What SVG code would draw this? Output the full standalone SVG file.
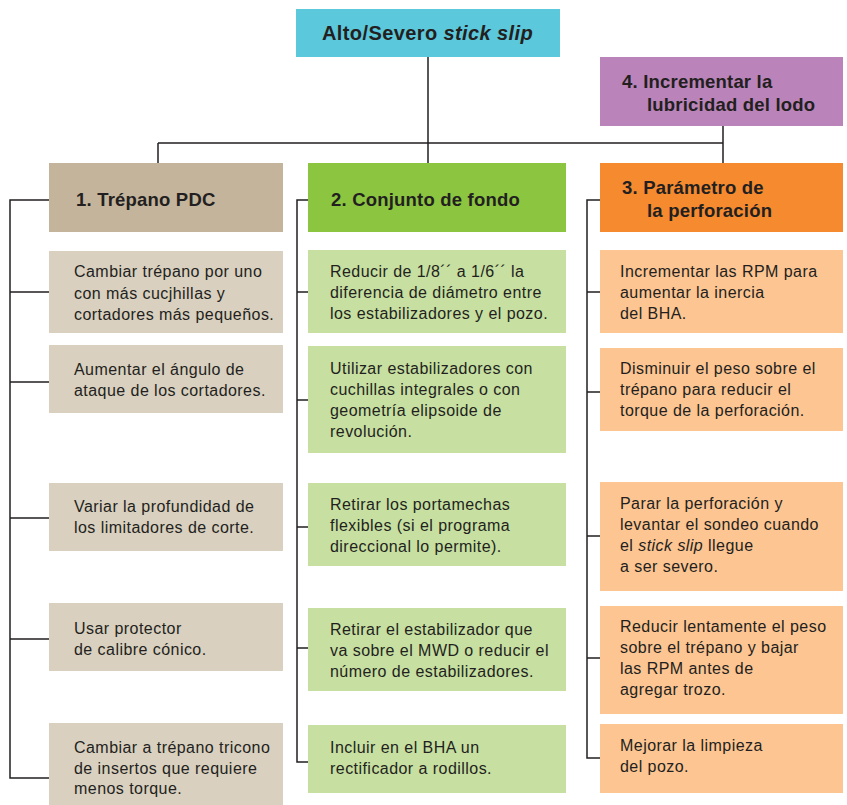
<svg xmlns="http://www.w3.org/2000/svg" width="847" height="805" viewBox="0 0 847 805">
  <style>
    .t { font-family: "Liberation Sans", Arial, sans-serif; font-size: 16px; letter-spacing: 0.45px; fill: #231f20; }
    .h { font-family: "Liberation Sans", Arial, sans-serif; font-size: 18.5px; font-weight: bold; letter-spacing: 0.2px; fill: #231f20; }
    .title { font-size: 20px; letter-spacing: 0.4px; }
    .ln { fill: none; stroke: #231f20; stroke-width: 1.5; }
    .c-top { fill: #5cc8db; }
    .c-lub { fill: #ba84ba; }
    .c-h1 { fill: #c4b49c; }
    .c-h2 { fill: #8cc540; }
    .c-h3 { fill: #f58a2f; }
    .c-b1 { fill: #d9d0bf; }
    .c-b2 { fill: #c7dfa0; }
    .c-b3 { fill: #fdc592; }
  </style>
  <rect width="847" height="805" fill="#ffffff"/>

  <g id="connectors">
    <!-- tree from the root to the column headers -->
    <path class="ln" d="M428 57 V163 M158 143 H723 M158 143 V163 M723 126 V163"/>
    <!-- column 1 bracket -->
    <path class="ln" d="M49 200 H10 V778 H49 M10 292 H49 M10 382 H49 M10 518 H49 M10 639 H49"/>
    <!-- column 2 bracket -->
    <path class="ln" d="M308 200 H297 V762 H308 M297 292 H308 M297 400 H308 M297 527 H308 M297 648 H308"/>
    <!-- column 3 bracket -->
    <path class="ln" d="M600 200 H587 V758 H600 M587 292 H600 M587 392 H600 M587 536 H600 M587 658 H600"/>
  </g>

  <g id="root">
    <rect class="c-top" x="296" y="9" width="264" height="48"/>
    <text class="h title" x="322" y="40">Alto/Severo <tspan font-style="italic">stick slip</tspan></text>
  </g>

  <g id="lubricity">
    <rect class="c-lub" x="600" y="57" width="243" height="69"/>
    <text class="h" x="622" y="88">4. Incrementar la</text>
    <text class="h" x="647" y="111">lubricidad del lodo</text>
  </g>

  <g id="header-1">
    <rect class="c-h1" x="49" y="163" width="234" height="69"/>
    <text class="h" x="76" y="206">1. Trépano PDC</text>
  </g>
  <g id="header-2">
    <rect class="c-h2" x="308" y="163" width="258" height="69"/>
    <text class="h" x="331" y="206">2. Conjunto de fondo</text>
  </g>
  <g id="header-3">
    <rect class="c-h3" x="600" y="163" width="243" height="69"/>
    <text class="h" x="622" y="194">3. Parámetro de</text>
    <text class="h" x="647" y="217">la perforación</text>
  </g>

  <!-- column 1: PDC bit -->
  <g id="c1-1">
    <rect class="c-b1" x="49" y="251" width="234" height="82"/>
    <text class="t" x="74" y="277">Cambiar trépano por uno</text>
    <text class="t" x="74" y="298.5">con más cucjhillas y</text>
    <text class="t" x="74" y="320">cortadores más pequeños.</text>
  </g>
  <g id="c1-2">
    <rect class="c-b1" x="49" y="345" width="234" height="68"/>
    <text class="t" x="74" y="374.5">Aumentar el ángulo de</text>
    <text class="t" x="74" y="395.5">ataque de los cortadores.</text>
  </g>
  <g id="c1-3">
    <rect class="c-b1" x="49" y="483" width="234" height="68"/>
    <text class="t" x="74" y="511.5">Variar la profundidad de</text>
    <text class="t" x="74" y="532.5">los limitadores de corte.</text>
  </g>
  <g id="c1-4">
    <rect class="c-b1" x="49" y="603" width="234" height="68"/>
    <text class="t" x="74" y="633.5">Usar protector</text>
    <text class="t" x="74" y="654.5">de calibre cónico.</text>
  </g>
  <g id="c1-5">
    <rect class="c-b1" x="49" y="723" width="234" height="82"/>
    <text class="t" x="74" y="753">Cambiar a trépano tricono</text>
    <text class="t" x="74" y="773.5">de insertos que requiere</text>
    <text class="t" x="74" y="794">menos torque.</text>
  </g>

  <!-- column 2: bottom hole assembly -->
  <g id="c2-1">
    <rect class="c-b2" x="308" y="250" width="258" height="83"/>
    <text class="t" x="330" y="277">Reducir de 1/8´´ a 1/6´´ la</text>
    <text class="t" x="330" y="298">diferencia de diámetro entre</text>
    <text class="t" x="330" y="319">los estabilizadores y el pozo.</text>
  </g>
  <g id="c2-2">
    <rect class="c-b2" x="308" y="346" width="258" height="107"/>
    <text class="t" x="330" y="373.5">Utilizar estabilizadores con</text>
    <text class="t" x="330" y="394.5">cuchillas integrales o con</text>
    <text class="t" x="330" y="415.5">geometría elipsoide de</text>
    <text class="t" x="330" y="436.5">revolución.</text>
  </g>
  <g id="c2-3">
    <rect class="c-b2" x="308" y="483" width="258" height="83"/>
    <text class="t" x="330" y="509.5">Retirar los portamechas</text>
    <text class="t" x="330" y="530.5">flexibles (si el programa</text>
    <text class="t" x="330" y="551.5">direccional lo permite).</text>
  </g>
  <g id="c2-4">
    <rect class="c-b2" x="308" y="608" width="258" height="83"/>
    <text class="t" x="330" y="634.5">Retirar el estabilizador que</text>
    <text class="t" x="330" y="655.5">va sobre el MWD o reducir el</text>
    <text class="t" x="330" y="676.5">número de estabilizadores.</text>
  </g>
  <g id="c2-5">
    <rect class="c-b2" x="308" y="725" width="258" height="68"/>
    <text class="t" x="330" y="753">Incluir en el BHA un</text>
    <text class="t" x="330" y="773.5">rectificador a rodillos.</text>
  </g>

  <!-- column 3: drilling parameters -->
  <g id="c3-1">
    <rect class="c-b3" x="600" y="250" width="243" height="83"/>
    <text class="t" x="620" y="277">Incrementar las RPM para</text>
    <text class="t" x="620" y="298">aumentar la inercia</text>
    <text class="t" x="620" y="319">del BHA.</text>
  </g>
  <g id="c3-2">
    <rect class="c-b3" x="600" y="348" width="243" height="83"/>
    <text class="t" x="620" y="373.5">Disminuir el peso sobre el</text>
    <text class="t" x="620" y="394.5">trépano para reducir el</text>
    <text class="t" x="620" y="415.5">torque de la perforación.</text>
  </g>
  <g id="c3-3">
    <rect class="c-b3" x="600" y="482" width="243" height="109"/>
    <text class="t" x="620" y="508.5">Parar la perforación y</text>
    <text class="t" x="620" y="529.5">levantar el sondeo cuando</text>
    <text class="t" x="620" y="550.5">el <tspan font-style="italic">stick slip</tspan> llegue</text>
    <text class="t" x="620" y="571.5">a ser severo.</text>
  </g>
  <g id="c3-4">
    <rect class="c-b3" x="600" y="606" width="243" height="108"/>
    <text class="t" x="620" y="632">Reducir lentamente el peso</text>
    <text class="t" x="620" y="653">sobre el trépano y bajar</text>
    <text class="t" x="620" y="674">las RPM antes de</text>
    <text class="t" x="620" y="695">agregar trozo.</text>
  </g>
  <g id="c3-5">
    <rect class="c-b3" x="600" y="724" width="243" height="69"/>
    <text class="t" x="620" y="751">Mejorar la limpieza</text>
    <text class="t" x="620" y="772">del pozo.</text>
  </g>
</svg>
